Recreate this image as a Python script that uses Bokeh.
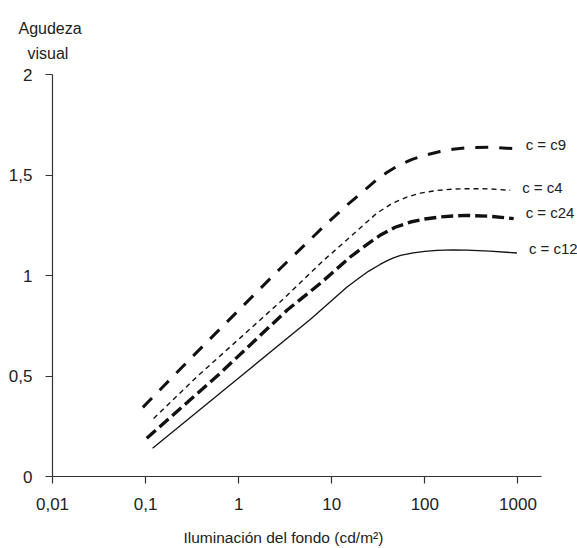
from bokeh.plotting import figure
from bokeh.models import Range1d, FixedTicker, Label, Title, LogAxis
from bokeh.embed import file_html
from bokeh.resources import INLINE

# ---- data ----
x_ticks = [0.01, 0.1, 1, 10, 100, 1000]
x_tick_labels = ["0,01", "0,1", "1", "10", "100", "1000"]
y_ticks = [0, 0.5, 1, 1.5, 2]
y_tick_labels = ["0", "0,5", "1", "1,5", "2"]

c9_x = [0.0935, 0.28, 2.8, 9.2, 15, 23.9, 32, 39, 50, 73, 100, 146, 200, 283, 500, 900]
c9_y = [0.344, 0.570, 1.035, 1.266, 1.355, 1.435, 1.485, 1.512, 1.543, 1.578, 1.598,
        1.617, 1.628, 1.636, 1.638, 1.631]

c4_x = [0.122, 0.355, 2.8, 8.2, 16.5, 30.5, 45, 64, 90, 135, 200, 283, 500, 826]
c4_y = [0.289, 0.496, 0.869, 1.076, 1.2, 1.31, 1.36, 1.39, 1.41, 1.423, 1.43, 1.432, 1.431, 1.424]

c24_x = [0.103, 0.63, 3.3, 7.5, 15.8, 24, 33, 48, 70, 100, 146, 200, 283, 500, 900]
c24_y = [0.19, 0.513, 0.827, 0.96, 1.092, 1.155, 1.2, 1.24, 1.266, 1.281, 1.291, 1.296,
         1.299, 1.295, 1.283]

c12_x = [0.119, 1.0, 6.0, 14.6, 20, 25, 33, 40, 46, 55, 75, 100, 135, 200, 283, 500, 975]
c12_y = [0.14, 0.49, 0.785, 0.943, 0.99, 1.022, 1.055, 1.075, 1.088, 1.100, 1.113, 1.12,
         1.125, 1.127, 1.126, 1.121, 1.112]

series_names = ["c = c9", "c = c4", "c = c24", "c = c12"]

FONT = "'Liberation Sans', Arial, sans-serif"
TXT = "#222222"
INK = "#111111"

p = figure(width=577, height=548, x_axis_type="log",
           x_range=Range1d(0.01, 10 ** 3.64), y_range=Range1d(0, 2),
           output_backend="svg", toolbar_location=None,
           min_border_left=52, min_border_right=0,
           min_border_top=74, min_border_bottom=72)
p.outline_line_color = None
p.grid.visible = False
p.background_fill_color = "white"
p.border_fill_color = "white"

for ax in (p.xaxis[0], p.yaxis[0]):
    ax.axis_line_color = "#333333"
    ax.axis_line_width = 1.2
    ax.major_tick_line_color = "#333333"
    ax.major_tick_line_width = 1.2
    ax.major_tick_out = 7
    ax.major_tick_in = 0
    ax.minor_tick_line_color = None
    ax.major_label_text_font = FONT
    ax.major_label_text_font_size = "17px"
    ax.major_label_text_color = TXT

p.xaxis[0].ticker = FixedTicker(ticks=x_ticks)
p.xaxis[0].major_label_overrides = dict(zip(x_ticks, x_tick_labels))
p.xaxis[0].major_label_standoff = 14
p.xaxis[0].bounds = (0.01, 10 ** 3.25)
p.yaxis[0].ticker = FixedTicker(ticks=y_ticks)
p.yaxis[0].major_label_overrides = dict(zip(y_ticks, y_tick_labels))
p.yaxis[0].major_label_standoff = 13

styles = [
    (c9_x, c9_y, 3.0, "13 11", 4),
    (c4_x, c4_y, 1.4, "5 4", 3),
    (c24_x, c24_y, 3.4, "12 5", 6.5),
    (c12_x, c12_y, 1.3, "solid", 4),
]
for (xs, ys, w, dash, dy), name in zip(styles, series_names):
    p.line(xs, ys, line_color=INK, line_width=w, line_dash=dash,
           line_join="round", line_cap="butt")
    p.add_layout(Label(x=xs[-1], y=ys[-1], x_offset=12, y_offset=dy,
                       text=name, text_baseline="middle", text_align="left",
                       text_font=FONT, text_font_size="15px", text_color=TXT))

# y-axis title (two lines, above the plot)
p.add_layout(Title(text="visual", align="left", offset=-25, standoff=26,
                   text_font=FONT, text_font_size="16px", text_font_style="normal",
                   text_color=TXT), "above")
p.add_layout(Title(text="Agudeza", align="left", offset=-34, standoff=-14,
                   text_font=FONT, text_font_size="16px", text_font_style="normal",
                   text_color=TXT), "above")

# invisible spacer (tick-only axis) below the tick labels, then the x-axis title
spacer = LogAxis(ticker=FixedTicker(ticks=[x_ticks[0]]), axis_line_color=None,
                 major_tick_out=13, major_tick_in=0, major_tick_line_color=None,
                 minor_tick_line_color=None, major_label_standoff=0,
                 major_label_overrides={x_ticks[0]: ""},
                 major_label_text_font_size="1px")
p.add_layout(spacer, "below")
p.add_layout(Title(text="Iluminación del fondo (cd/m²)", align="left", offset=131,
                   standoff=2, text_font=FONT, text_font_size="15.5px",
                   text_font_style="normal", text_color=TXT), "below")

open("out.html", "w").write(file_html(p, INLINE))
